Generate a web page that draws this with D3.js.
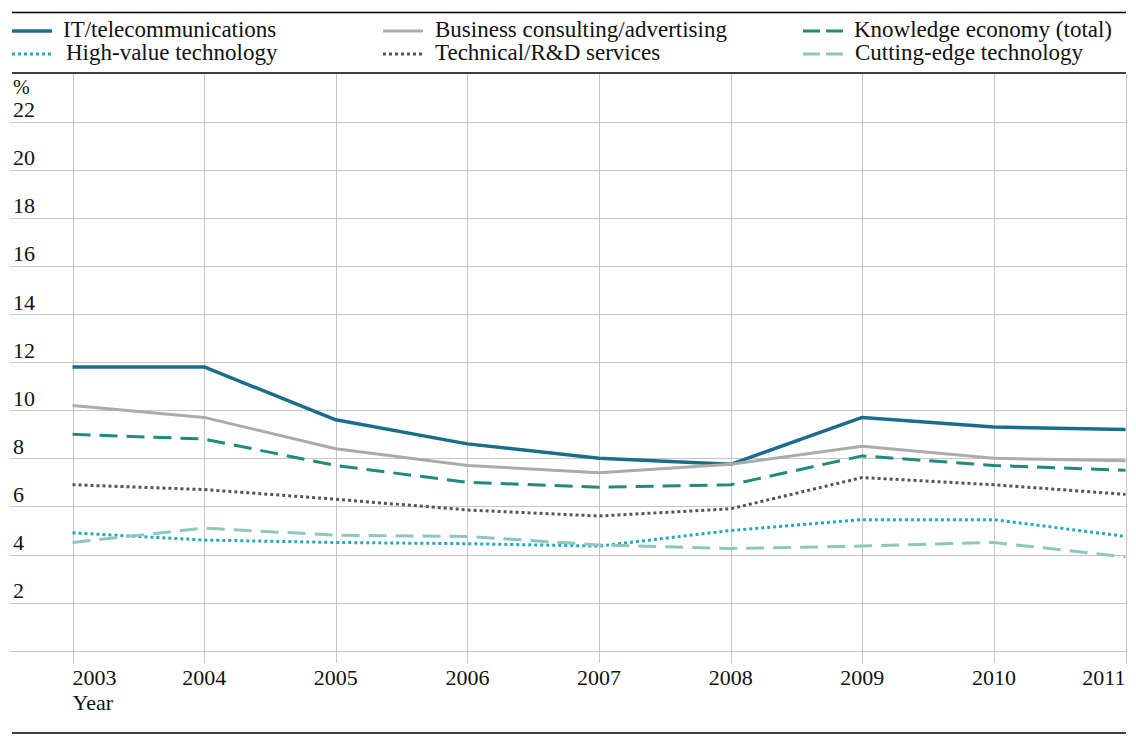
<!DOCTYPE html>
<html>
<head>
<meta charset="utf-8">
<script src="https://cdn.jsdelivr.net/npm/d3@7"></script>
<style>
  html, body { margin: 0; padding: 0; background: #fff; }
  svg { display: block; }
  svg text { font-family: 'Liberation Serif', 'DejaVu Serif', 'Times New Roman', Times, serif; }
</style>
</head>
<body>
<svg id="chart" width="1136" height="738"></svg>
<script>
const years = [2003, 2004, 2005, 2006, 2007, 2008, 2009, 2010, 2011];
const yTicks = [2, 4, 6, 8, 10, 12, 14, 16, 18, 20, 22];
const gridValues = [0, 2, 4, 6, 8, 10, 12, 14, 16, 18, 20, 22];

const seriesNames = [
  "IT/telecommunications",
  "High-value technology",
  "Business consulting/advertising",
  "Technical/R&D services",
  "Knowledge economy (total)",
  "Cutting-edge technology"
];

const itTelecom      = [11.8, 11.8, 9.6, 8.6, 8.0, 7.75, 9.7, 9.3, 9.2];
const highValueTech  = [4.9, 4.6, 4.5, 4.45, 4.35, 5.0, 5.45, 5.45, 4.75];
const businessConsult= [10.2, 9.7, 8.4, 7.7, 7.4, 7.75, 8.5, 8.0, 7.9];
const technicalRD    = [6.9, 6.7, 6.3, 5.85, 5.6, 5.9, 7.2, 6.9, 6.5];
const knowledgeTotal = [9.0, 8.8, 7.7, 7.0, 6.8, 6.9, 8.1, 7.7, 7.5];
const cuttingEdge    = [4.5, 5.1, 4.8, 4.75, 4.4, 4.25, 4.35, 4.5, 3.9];

const seriesValues = [itTelecom, highValueTech, businessConsult, technicalRD, knowledgeTotal, cuttingEdge];

const styles = [
  { color: "#1b6d8d", width: 3.5, dash: null },
  { color: "#22a9c2", width: 3, dash: "3,3" },
  { color: "#ababab", width: 3, dash: null },
  { color: "#555555", width: 3, dash: "3,3" },
  { color: "#1f8a7e", width: 3, dash: "18,9" },
  { color: "#8fc6c0", width: 3, dash: "18,9" }
];

const FONT = "'Liberation Serif', 'DejaVu Serif', serif";

const svg = d3.select("#chart").attr("font-family", FONT);

const x = d3.scaleLinear().domain([2003, 2011]).range([72.5, 1125.5]);
const y = d3.scaleLinear().domain([0, 22]).range([650.7, 121.6]);

// rules
const rule = (yy) => svg.append("line").attr("x1", 12).attr("x2", 1126)
  .attr("y1", yy).attr("y2", yy).attr("stroke", "#000").attr("stroke-width", 1.3);
rule(12.5); rule(73); rule(733);

// grid horizontal
svg.append("g").selectAll("line").data(gridValues).join("line")
  .attr("x1", 10).attr("x2", 1126)
  .attr("y1", d => Math.round(y(d)) + 0.5).attr("y2", d => Math.round(y(d)) + 0.5)
  .attr("stroke", "#c6c6c6").attr("stroke-width", 1);

// grid vertical
svg.append("g").selectAll("line").data(years).join("line")
  .attr("x1", d => Math.round(x(d)) + 0.5).attr("x2", d => Math.round(x(d)) + 0.5)
  .attr("y1", 74).attr("y2", 663)
  .attr("stroke", "#c6c6c6").attr("stroke-width", 1);

// y tick labels
svg.append("g").selectAll("text").data(yTicks).join("text")
  .attr("x", 13).attr("y", d => y(d) - 4.5)
  .attr("font-family", FONT)
  .attr("font-size", 22).attr("fill", "#111")
  .text(d => d);
svg.append("text").attr("x", 13).attr("y", 94).attr("font-family", FONT)
  .attr("font-size", 20).attr("fill", "#111").text("%");

// x tick labels
svg.append("g").selectAll("text").data(years).join("text")
  .attr("x", d => x(d))
  .attr("y", 685)
  .attr("text-anchor", (d, i) => i === 0 ? "start" : (i === years.length - 1 ? "end" : "middle"))
  .attr("font-family", FONT)
  .attr("font-size", 22).attr("fill", "#111")
  .text(d => d);
svg.append("text").attr("x", x(2003)).attr("y", 710).attr("font-family", FONT)
  .attr("font-size", 22).attr("fill", "#111").text("Year");

// lines
const line = d3.line().x((d, i) => x(years[i])).y(d => y(d));
seriesValues.forEach((vals, k) => {
  const s = styles[k];
  const p = svg.append("path").datum(vals)
    .attr("d", line)
    .attr("fill", "none")
    .attr("stroke", s.color)
    .attr("stroke-width", s.width)
    .attr("stroke-linejoin", "round");
  if (s.dash) p.attr("stroke-dasharray", s.dash);
});

// legend
const legendPos = [
  { lx: 12, tx: 63, y: 30 },
  { lx: 12, tx: 66, y: 53 },
  { lx: 383, tx: 435, y: 30 },
  { lx: 383, tx: 435, y: 53 },
  { lx: 803, tx: 854, y: 30 },
  { lx: 803, tx: 855, y: 53 }
];
seriesNames.forEach((name, k) => {
  const s = styles[k], p = legendPos[k];
  const l = svg.append("line").attr("x1", p.lx).attr("x2", p.lx + 40)
    .attr("y1", p.y + 1).attr("y2", p.y + 1)
    .attr("stroke", s.color).attr("stroke-width", s.width);
  if (s.dash) l.attr("stroke-dasharray", s.dash === "18,9" ? "17,6" : s.dash);
  svg.append("text").attr("x", p.tx).attr("y", p.y + 7)
    .attr("font-family", FONT)
    .attr("font-size", 23).attr("fill", "#111").text(name);
});
</script>
</body>
</html>
